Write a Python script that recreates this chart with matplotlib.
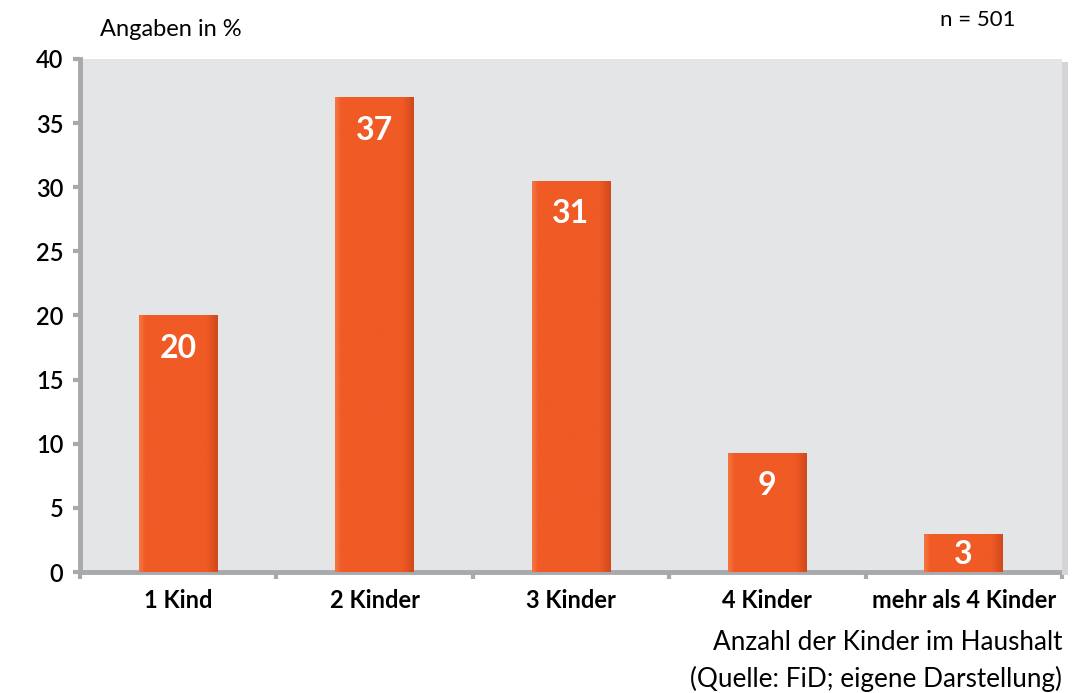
import numpy as np
import matplotlib.pyplot as plt
from matplotlib.colors import LinearSegmentedColormap
from matplotlib.patches import Rectangle

categories = ['1 Kind', '2 Kinder', '3 Kinder', '4 Kinder', 'mehr als 4 Kinder']
values = [20, 37, 30.5, 9.3, 3]
labels = ['20', '37', '31', '9', '3']

plt.rcParams['font.family'] = ['Lato', 'DejaVu Sans']

fig = plt.figure(figsize=(10.85, 6.93), dpi=100)
ax = fig.add_axes([0.0737, 0.1746, 0.905, 0.7403])
ax.set_facecolor('#e4e5e7')

# soft shadow on right side of the plot area
fig.patches.append(Rectangle((0.9787, 0.17), 0.006, 0.74, transform=fig.transFigure,
                             facecolor='#d4d4d6', edgecolor='none', zorder=0))

x = np.arange(len(categories))
width = 0.4
bars = ax.bar(x, values, width=width, color='#f05a25', zorder=2)

# gradient overlay: lighter left, darker right
grad = np.linspace(0, 1, 60).reshape(1, -1)
cmap = LinearSegmentedColormap.from_list(
    'bar', [(0, '#f3743f'), (0.08, '#f05a25'), (0.86, '#f05a25'), (1, '#d24a1b')])
for b in bars:
    im = ax.imshow(grad, cmap=cmap, aspect='auto', zorder=3,
                   extent=[b.get_x(), b.get_x() + b.get_width(), 0, b.get_height()])
    im.set_clip_path(b)

for xi, v, lab in zip(x, values, labels):
    if v > 6:
        ax.annotate(lab, (xi, v), xytext=(0, -13), textcoords='offset points',
                    ha='center', va='top', color='white', fontsize=23, fontweight='bold', zorder=5)
    else:
        ax.annotate(lab, (xi, v / 2), xytext=(0, -1.5), textcoords='offset points',
                    ha='center', va='center', color='white', fontsize=23, fontweight='bold', zorder=5)

ax.set_xlim(-0.5, len(categories) - 0.5)
ax.set_ylim(0, 40)
ax.set_yticks(range(0, 41, 5))
ax.set_xticks(x)
ax.set_xticklabels(categories, fontsize=17, fontweight='bold')
ax.set_xticks(np.arange(-0.5, len(categories), 1), minor=True)
ax.tick_params(axis='x', which='major', length=0, pad=12)
ax.tick_params(axis='x', which='minor', length=5, width=3, color='#a7a9ac', direction='out')
ax.tick_params(axis='y', length=5, width=3, color='#a7a9ac', labelsize=17, pad=7)
for t in ax.get_yticklabels():
    t.set_fontweight('semibold')

for s in ['top', 'right']:
    ax.spines[s].set_visible(False)
for s in ['left', 'bottom']:
    ax.spines[s].set_color('#a7a9ac')
    ax.spines[s].set_linewidth(3.5)

fig.text(0.092, 0.958, 'Angaben in %', fontsize=17, ha='left', va='center')
fig.text(0.936, 0.971, 'n = 501', fontsize=16, ha='right', va='center')
fig.text(0.979, 0.073, 'Anzahl der Kinder im Haushalt', fontsize=18.8, ha='right', va='center')
fig.text(0.979, 0.02, '(Quelle: FiD; eigene Darstellung)', fontsize=18.8, ha='right', va='center')

fig.savefig('out.png', dpi=100)
